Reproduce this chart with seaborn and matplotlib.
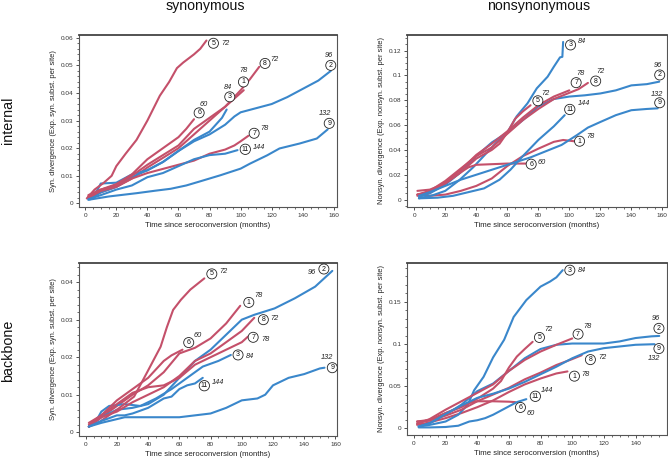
import matplotlib
matplotlib.use("Agg")
import matplotlib.pyplot as plt
import pandas as pd
import seaborn as sns
from matplotlib.ticker import MultipleLocator, AutoMinorLocator, FuncFormatter

sns.set_theme(style="ticks")
plt.rcParams['font.family'] = ['Liberation Sans', 'DejaVu Sans']

# ---------------- data ----------------
blue_patients = [2, 3, 9, 11]
red_patients = [1, 5, 6, 7, 8]
label_numbers = {1: 78, 2: 96, 3: 84, 5: 72, 6: 60, 7: 78, 8: 72, 9: 132, 11: 144}

col_titles = ["synonymous", "nonsynonymous"]
row_titles = ["internal", "backbone"]
xlabel = "Time since seroconversion (months)"
ylabel_syn = "Syn. divergence (Exp. syn. subst. per site)"
ylabel_non = "Nonsyn. divergence (Exp. nonsyn. subst. per site)"

# internal, synonymous
int_syn_t = {
    1: [2, 10, 20, 30, 40, 50, 60, 70, 80, 90, 96, 102],
    2: [3, 10, 20, 30, 40, 50, 60, 70, 80, 90, 96, 100, 110, 120, 130, 140, 150, 158],
    3: [3, 8, 10, 20, 25, 30, 40, 50, 60, 70, 80, 88, 91],
    5: [1, 6, 12, 17, 20, 26, 33, 40, 48, 54, 59, 63, 70, 74, 78],
    6: [2, 10, 20, 30, 40, 50, 60, 65, 70],
    7: [2, 10, 20, 30, 40, 50, 60, 70, 80, 90, 96, 100, 105],
    8: [2, 10, 20, 30, 40, 50, 60, 70, 80, 90, 100, 106, 112],
    9: [2, 15, 33, 45, 55, 65, 74, 87, 100, 106, 117, 125, 138, 149, 156],
    11: [2, 10, 20, 30, 40, 50, 60, 70, 80, 90, 98],
}
int_syn_v = {
    1: [0.002, 0.004, 0.006, 0.009, 0.013, 0.0165, 0.020, 0.025, 0.030, 0.035, 0.038, 0.041],
    2: [0.0015, 0.004, 0.006, 0.0095, 0.012, 0.015, 0.019, 0.0225, 0.025, 0.0285, 0.0315, 0.033,
        0.0345, 0.036, 0.0385, 0.0415, 0.0445, 0.048],
    3: [0.0015, 0.005, 0.0072, 0.0075, 0.009, 0.0105, 0.012, 0.015, 0.019, 0.023, 0.026, 0.031, 0.034],
    5: [0.0018, 0.005, 0.0075, 0.010, 0.0135, 0.018, 0.023, 0.030, 0.039, 0.044, 0.049, 0.051,
        0.054, 0.056, 0.059],
    6: [0.003, 0.005, 0.007, 0.0105, 0.016, 0.020, 0.024, 0.027, 0.0305],
    7: [0.002, 0.0045, 0.006, 0.009, 0.011, 0.0125, 0.014, 0.0155, 0.018, 0.0195, 0.021, 0.0225, 0.0245],
    8: [0.0025, 0.005, 0.0065, 0.010, 0.014, 0.0175, 0.021, 0.027, 0.031, 0.035, 0.041, 0.045, 0.0495],
    9: [0.0013, 0.0025, 0.0037, 0.0046, 0.0053, 0.0065, 0.008, 0.0102, 0.0126, 0.0144, 0.0174,
        0.0199, 0.0217, 0.0235, 0.0268],
    11: [0.0015, 0.003, 0.005, 0.0065, 0.0095, 0.011, 0.0135, 0.016, 0.0175, 0.018, 0.0193],
}

# internal, nonsynonymous
int_non_t = {
    1: [2, 10, 20, 30, 40, 50, 60, 70, 80, 90, 96, 103],
    2: [3, 10, 20, 30, 40, 50, 60, 70, 80, 90, 100, 110, 120, 130, 140, 150, 158],
    3: [3, 12, 20, 29, 38, 44, 53, 60, 66, 73, 79, 86, 90, 94, 95.5, 96],
    5: [2, 10, 20, 30, 40, 50, 55, 60, 65, 70, 75],
    6: [2, 10, 20, 30, 35, 40, 50, 60, 68, 72],
    7: [2, 10, 20, 30, 40, 50, 60, 70, 80, 90, 100],
    8: [2, 10, 20, 30, 40, 50, 60, 70, 80, 90, 100, 106, 112],
    9: [3, 10, 20, 30, 40, 50, 60, 65, 75, 85, 95, 105, 112, 120, 130, 140, 150, 157],
    11: [3, 15, 25, 35, 45, 55, 62, 70, 80, 90, 97],
}
int_non_v = {
    1: [0.004, 0.003, 0.004, 0.007, 0.011, 0.017, 0.027, 0.035, 0.041, 0.0465, 0.048, 0.047],
    2: [0.002, 0.005, 0.012, 0.022, 0.035, 0.046, 0.054, 0.064, 0.075, 0.081, 0.083, 0.084,
        0.0855, 0.088, 0.092, 0.093, 0.095],
    3: [0.001, 0.0035, 0.007, 0.0156, 0.026, 0.034, 0.046, 0.054, 0.067, 0.0775, 0.0896, 0.099,
        0.107, 0.1146, 0.115, 0.127],
    5: [0.004, 0.007, 0.013, 0.022, 0.033, 0.040, 0.045, 0.054, 0.065, 0.071, 0.076],
    6: [0.007, 0.008, 0.013, 0.022, 0.026, 0.028, 0.0285, 0.029, 0.029, 0.029],
    7: [0.004, 0.006, 0.014, 0.024, 0.036, 0.045, 0.055, 0.066, 0.076, 0.083, 0.088],
    8: [0.003, 0.007, 0.015, 0.025, 0.035, 0.042, 0.053, 0.064, 0.073, 0.081, 0.086, 0.089, 0.094],
    9: [0.003, 0.006, 0.011, 0.016, 0.020, 0.024, 0.028, 0.030, 0.034, 0.039, 0.044, 0.052,
        0.058, 0.0625, 0.068, 0.072, 0.073, 0.0735],
    11: [0.001, 0.0015, 0.003, 0.006, 0.009, 0.016, 0.024, 0.035, 0.048, 0.059, 0.068],
}

# backbone, synonymous
bb_syn_t = {
    1: [2, 10, 20, 30, 40, 50, 60, 70, 80, 90, 99],
    2: [2, 10, 20, 30, 40, 50, 60, 70, 80, 90, 100, 108, 121, 134, 147, 158],
    3: [2, 8, 10, 15, 25, 35, 45, 55, 65, 75, 85, 93],
    5: [2, 9, 20, 31, 39, 48, 52, 56, 61, 67, 76],
    6: [2, 10, 20, 25, 30, 40, 50, 55, 62],
    7: [2, 10, 20, 30, 40, 50, 60, 70, 80, 90, 100, 104],
    8: [2, 10, 20, 30, 40, 50, 60, 70, 80, 90, 100, 108],
    9: [2, 10, 20, 25, 40, 60, 70, 80, 90, 100, 110, 115, 120, 130, 140, 150, 153],
    11: [2, 10, 20, 25, 30, 40, 50, 55, 60, 65, 70, 75],
}
bb_syn_v = {
    1: [0.0015, 0.004, 0.007, 0.010, 0.0125, 0.016, 0.021, 0.0225, 0.025, 0.029, 0.0337],
    2: [0.0015, 0.004, 0.006, 0.0065, 0.0075, 0.010, 0.0145, 0.019, 0.022, 0.026, 0.030, 0.0313,
        0.033, 0.0357, 0.0388, 0.043],
    3: [0.0015, 0.004, 0.0055, 0.007, 0.0075, 0.007, 0.009, 0.0115, 0.0145, 0.0175, 0.019, 0.0206],
    5: [0.0015, 0.0028, 0.006, 0.0095, 0.0157, 0.0228, 0.028, 0.0326, 0.0353, 0.038, 0.041],
    6: [0.0025, 0.0045, 0.0085, 0.010, 0.0115, 0.0145, 0.019, 0.0205, 0.022],
    7: [0.002, 0.0045, 0.0075, 0.0105, 0.012, 0.0125, 0.0145, 0.018, 0.020, 0.022, 0.024, 0.0255],
    8: [0.0015, 0.004, 0.0055, 0.008, 0.010, 0.012, 0.015, 0.019, 0.021, 0.024, 0.027, 0.0305],
    9: [0.0015, 0.0025, 0.0035, 0.004, 0.004, 0.004, 0.0045, 0.005, 0.0065, 0.0085, 0.009, 0.010,
        0.0125, 0.0145, 0.0155, 0.017, 0.0172],
    11: [0.0015, 0.003, 0.0045, 0.0045, 0.005, 0.0065, 0.009, 0.0095, 0.0115, 0.0125, 0.013, 0.0145],
}

# backbone, nonsynonymous
bb_non_t = {
    1: [2, 10, 20, 30, 40, 50, 60, 70, 80, 90, 97],
    2: [3, 10, 20, 30, 40, 50, 60, 70, 80, 90, 100, 120, 130, 140, 150, 155],
    3: [3, 10, 20, 28, 34, 38, 44, 50, 57, 63, 71, 80, 86, 90, 94],
    5: [2, 10, 20, 30, 40, 50, 55, 60, 65, 70, 75],
    6: [2, 10, 20, 30, 35, 40, 50, 60, 64],
    7: [2, 10, 20, 30, 40, 50, 60, 70, 80, 90, 100],
    8: [2, 10, 20, 30, 40, 50, 60, 70, 80, 90, 100, 106],
    9: [3, 10, 20, 30, 40, 50, 60, 70, 80, 90, 100, 110, 120, 130, 140, 152],
    11: [3, 10, 20, 28, 35, 40, 45, 50, 55, 60, 65, 71],
}
bb_non_v = {
    1: [0.004, 0.007, 0.012, 0.018, 0.025, 0.033, 0.043, 0.052, 0.059, 0.065, 0.0674],
    2: [0.002, 0.006, 0.016, 0.028, 0.044, 0.053, 0.068, 0.083, 0.094, 0.099, 0.1005, 0.1005,
        0.103, 0.107, 0.109, 0.1095],
    3: [0.002, 0.004, 0.008, 0.016, 0.028, 0.045, 0.061, 0.084, 0.105, 0.132, 0.152, 0.168,
        0.174, 0.179, 0.1875],
    5: [0.006, 0.010, 0.018, 0.025, 0.035, 0.047, 0.056, 0.072, 0.085, 0.094, 0.1025],
    6: [0.008, 0.009, 0.018, 0.026, 0.030, 0.032, 0.032, 0.0315, 0.031],
    7: [0.005, 0.011, 0.022, 0.032, 0.042, 0.052, 0.068, 0.081, 0.091, 0.099, 0.1065],
    8: [0.008, 0.010, 0.015, 0.022, 0.032, 0.040, 0.048, 0.058, 0.066, 0.075, 0.082, 0.0866],
    9: [0.002, 0.006, 0.017, 0.027, 0.036, 0.041, 0.047, 0.055, 0.064, 0.073, 0.083, 0.091,
        0.095, 0.097, 0.099, 0.0997],
    11: [0.001, 0.001, 0.0015, 0.003, 0.008, 0.0095, 0.012, 0.016, 0.021, 0.026, 0.031, 0.0345],
}

# label placements: patient -> (circle x, circle y, number x, number y)
int_syn_lab = {5: (82.5, 0.058, 90, 0.058), 8: (115.7, 0.0507, 122, 0.052),
               1: (101.8, 0.044, 101.8, 0.048), 3: (93, 0.0386, 91.7, 0.0419),
               6: (73.3, 0.0328, 76, 0.036), 7: (108.7, 0.0254, 115, 0.0272),
               11: (103, 0.0196, 111.5, 0.0202), 2: (158, 0.050, 156.5, 0.0534),
               9: (157, 0.029, 154, 0.0326)}
int_non_lab = {3: (100.8, 0.1246, 108.3, 0.127), 2: (158.3, 0.1004, 156.8, 0.108),
               7: (104.4, 0.0942, 106.8, 0.1017), 8: (117, 0.0955, 120, 0.103),
               5: (79.7, 0.0796, 84.6, 0.0856), 9: (158.3, 0.078, 156.3, 0.085),
               11: (100.3, 0.0726, 109.4, 0.077), 1: (106.6, 0.047, 113.7, 0.0511),
               6: (75.4, 0.0285, 82.5, 0.0296)}
bb_syn_lab = {5: (80.8, 0.0422, 88, 0.0428), 1: (104.5, 0.0346, 110.6, 0.0364),
              8: (113.8, 0.030, 120.7, 0.0304), 6: (66, 0.0239, 71.8, 0.0257),
              7: (107.3, 0.0253, 114.9, 0.0248), 3: (97.6, 0.0206, 105.2, 0.0202),
              11: (76, 0.0124, 84.7, 0.0132), 2: (152.6, 0.0435, 145, 0.0426),
              9: (158, 0.0172, 154.7, 0.0199)}
bb_non_lab = {3: (98.5, 0.1875, 106.3, 0.1875), 2: (154.8, 0.1185, 152.6, 0.130),
              9: (154.8, 0.0945, 152, 0.0826), 5: (79.3, 0.1077, 85.2, 0.117),
              7: (103.7, 0.1117, 109.4, 0.1205), 8: (111.5, 0.0814, 119, 0.0838),
              1: (101.4, 0.0618, 108.4, 0.0638), 11: (76.7, 0.0379, 84, 0.0447),
              6: (67.3, 0.0247, 73.6, 0.0176)}

# ---------------- styling ----------------
RED = "#c4506a"
BLUE = "#3a87cb"
palette = {p: BLUE for p in blue_patients}
palette.update({p: RED for p in red_patients})


def to_long(tdict, vdict):
    rows = []
    for p in tdict:
        for t, v in zip(tdict[p], vdict[p]):
            rows.append((p, t, v))
    return pd.DataFrame(rows, columns=["patient", "month", "div"])


W, H = 668, 459
fig = plt.figure(figsize=(W / 100, H / 100), dpi=100)

panels = [
    (int_syn_t, int_syn_v, int_syn_lab, [79, 35, 337, 207], (-4, 162), (-0.0013, 0.061), 0.01, 5, ylabel_syn),
    (int_non_t, int_non_v, int_non_lab, [407, 35, 667, 207], (-4.7, 163), (-0.006, 0.1326), 0.02, 4, ylabel_non),
    (bb_syn_t, bb_syn_v, bb_syn_lab, [79, 263, 337, 436], (-4.3, 161), (-0.001, 0.0451), 0.01, 5, ylabel_syn),
    (bb_non_t, bb_non_v, bb_non_lab, [407, 263, 667, 435], (-4.4, 159.9), (-0.008, 0.196), 0.05, 5, ylabel_non),
]

fmt = FuncFormatter(lambda v, _: "0" if abs(v) < 1e-12 else ("%g" % round(v, 4)))

for tdict, vdict, labs, box, xl, yl, ymaj, ymin_n, ylab in panels:
    x0, y0, x1, y1 = box
    ax = fig.add_axes([x0 / W, 1 - y1 / H, (x1 - x0) / W, (y1 - y0) / H])
    df = to_long(tdict, vdict)
    sns.lineplot(data=df, x="month", y="div", hue="patient", palette=palette,
                 estimator=None, sort=False, legend=False, linewidth=1.5, ax=ax)
    ax.set_xlim(*xl)
    ax.set_ylim(*yl)
    ax.xaxis.set_major_locator(MultipleLocator(20))
    ax.xaxis.set_minor_locator(AutoMinorLocator(4))
    ax.yaxis.set_major_locator(MultipleLocator(ymaj))
    ax.yaxis.set_minor_locator(AutoMinorLocator(ymin_n))
    ax.yaxis.set_major_formatter(fmt)
    ax.tick_params(which="major", direction="out", length=2.5, width=0.6,
                   labelsize=4.6, pad=1.5, colors="#333333")
    ax.tick_params(which="minor", direction="out", length=1.4, width=0.5, colors="#333333")
    for s in ax.spines.values():
        s.set_visible(True)
        s.set_color("#555555")
        s.set_linewidth(0.8)
    ax.spines["top"].set_linewidth(1.3)
    ax.spines["top"].set_color("#444444")
    ax.set_xlabel(xlabel, fontsize=5.6, labelpad=3, color="#222222")
    ax.set_ylabel(ylab, fontsize=5.4, labelpad=3, color="#222222")
    for p, (cx, cy, nx, ny) in labs.items():
        ax.text(cx, cy, str(p), ha="center", va="center", fontsize=5.0, color="#111111",
                bbox=dict(boxstyle="circle,pad=0.22", fc="white", ec="#222222", lw=0.6),
                zorder=5)
        ax.text(nx, ny, str(label_numbers[p]), ha="center", va="center", fontsize=5.3,
                style="italic", color="#222222", zorder=5)

fig.text(205 / W, 1 - 10 / H, col_titles[0], ha="center", va="baseline", fontsize=10.2, color="#111111")
fig.text(539 / W, 1 - 10 / H, col_titles[1], ha="center", va="baseline", fontsize=10.2, color="#111111")
fig.text(8 / W, 1 - 120 / H, row_titles[0], ha="center", va="center", rotation=90, fontsize=10.3, color="#111111")
fig.text(8 / W, 1 - 351 / H, row_titles[1], ha="center", va="center", rotation=90, fontsize=10.3, color="#111111")

fig.savefig("out.png", dpi=100, facecolor="white")
